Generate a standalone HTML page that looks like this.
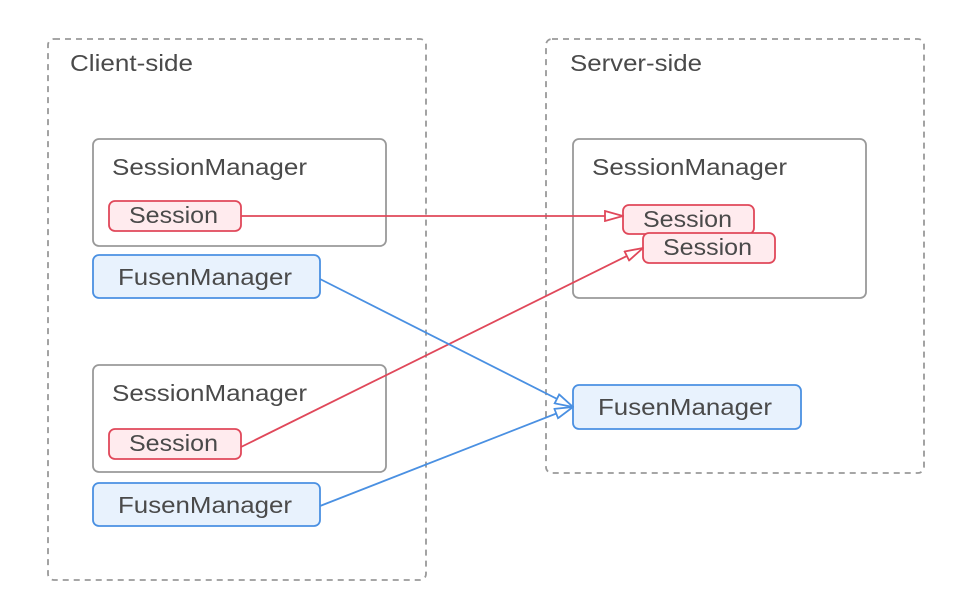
<!DOCTYPE html>
<html><head><style>body{margin:0;background:#fff}svg{display:block}text{font-family:"Liberation Sans",sans-serif;fill:#4a4a4a;font-size:23px}</style></head><body>
<svg width="966" height="616" viewBox="0 0 966 616" xmlns="http://www.w3.org/2000/svg">
<defs>
<marker id="ar" viewBox="0 0 20 12" refX="19" refY="6" markerWidth="20" markerHeight="12" markerUnits="userSpaceOnUse" orient="auto"><path d="M1,1 L19,6 L1,11 Z" fill="#fff" stroke="#e0485a" stroke-width="1.8"/></marker>
<marker id="ab" viewBox="0 0 20 12" refX="19" refY="6" markerWidth="20" markerHeight="12" markerUnits="userSpaceOnUse" orient="auto"><path d="M1,1 L19,6 L1,11 Z" fill="#fff" stroke="#4a90e2" stroke-width="1.8"/></marker>
</defs>
<rect x="48" y="39" width="378" height="541" rx="6" fill="none" stroke="#999" stroke-width="1.8" stroke-dasharray="6,5"/>
<rect x="546" y="39" width="378" height="434" rx="6" fill="none" stroke="#999" stroke-width="1.8" stroke-dasharray="6,5"/>
<text x="70" y="71" textLength="123" lengthAdjust="spacingAndGlyphs">Client-side</text>
<text x="570" y="71" textLength="132" lengthAdjust="spacingAndGlyphs">Server-side</text>
<rect x="93" y="139" width="293" height="107" rx="6" fill="#fff" stroke="#999" stroke-width="1.8"/>
<text x="112" y="175" textLength="195" lengthAdjust="spacingAndGlyphs">SessionManager</text>
<rect x="93" y="365" width="293" height="107" rx="6" fill="#fff" stroke="#999" stroke-width="1.8"/>
<text x="112" y="401" textLength="195" lengthAdjust="spacingAndGlyphs">SessionManager</text>
<rect x="573" y="139" width="293" height="159" rx="6" fill="#fff" stroke="#999" stroke-width="1.8"/>
<text x="592" y="175" textLength="195" lengthAdjust="spacingAndGlyphs">SessionManager</text>
<rect x="109" y="201" width="132" height="30" rx="6" fill="#ffebee" stroke="#e0485a" stroke-width="1.8"/>
<text x="129" y="223" textLength="89" lengthAdjust="spacingAndGlyphs">Session</text>
<rect x="109" y="429" width="132" height="30" rx="6" fill="#ffebee" stroke="#e0485a" stroke-width="1.8"/>
<text x="129" y="451" textLength="89" lengthAdjust="spacingAndGlyphs">Session</text>
<rect x="623" y="205" width="131" height="29" rx="6" fill="#ffebee" stroke="#e0485a" stroke-width="1.8"/>
<text x="643" y="227" textLength="89" lengthAdjust="spacingAndGlyphs">Session</text>
<rect x="643" y="233" width="132" height="30" rx="6" fill="#ffebee" stroke="#e0485a" stroke-width="1.8"/>
<text x="663" y="255" textLength="89" lengthAdjust="spacingAndGlyphs">Session</text>
<rect x="93" y="255" width="227" height="43" rx="6" fill="#e8f2fd" stroke="#4a90e2" stroke-width="1.8"/>
<text x="118" y="285" textLength="174" lengthAdjust="spacingAndGlyphs">FusenManager</text>
<rect x="93" y="483" width="227" height="43" rx="6" fill="#e8f2fd" stroke="#4a90e2" stroke-width="1.8"/>
<text x="118" y="513" textLength="174" lengthAdjust="spacingAndGlyphs">FusenManager</text>
<rect x="573" y="385" width="228" height="44" rx="6" fill="#e8f2fd" stroke="#4a90e2" stroke-width="1.8"/>
<text x="598" y="415" textLength="174" lengthAdjust="spacingAndGlyphs">FusenManager</text>
<line x1="241" y1="216" x2="623" y2="216" stroke="#e0485a" stroke-width="1.8" marker-end="url(#ar)"/>
<line x1="241" y1="447" x2="643" y2="248" stroke="#e0485a" stroke-width="1.8" marker-end="url(#ar)"/>
<line x1="320" y1="279" x2="573" y2="407" stroke="#4a90e2" stroke-width="1.8" marker-end="url(#ab)"/>
<line x1="320" y1="506" x2="573" y2="407" stroke="#4a90e2" stroke-width="1.8" marker-end="url(#ab)"/>
</svg>
</body></html>
